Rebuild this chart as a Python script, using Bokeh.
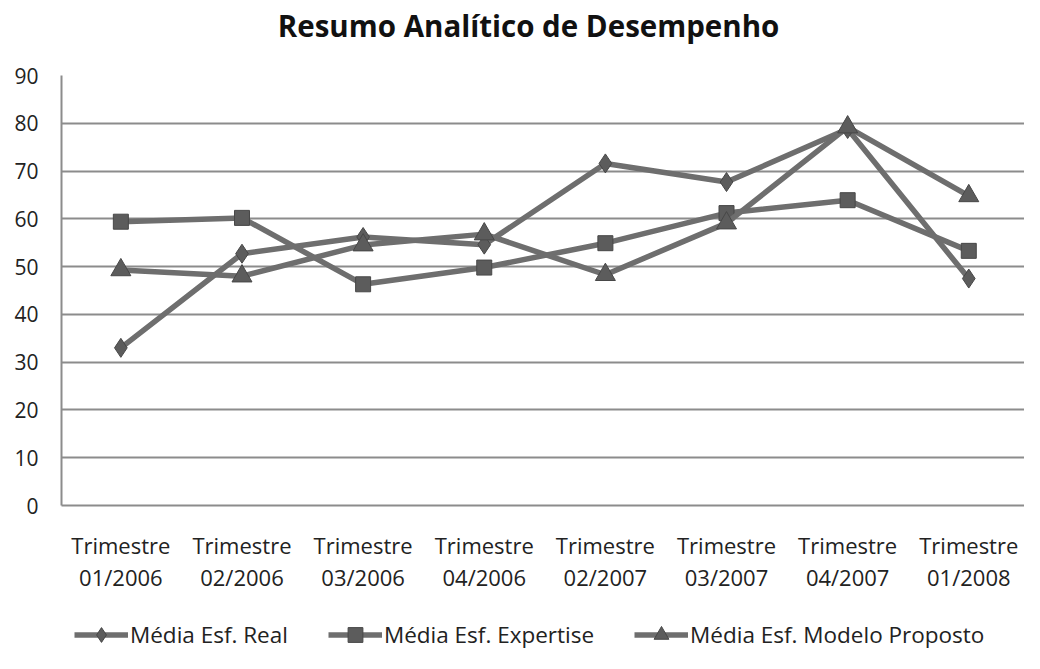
from bokeh.plotting import figure
from bokeh.models import Legend, LegendItem, FixedTicker, Label
from bokeh.layouts import column
from bokeh.embed import file_html
from bokeh.resources import INLINE

categories = ["Trimestre\n01/2006", "Trimestre\n02/2006", "Trimestre\n03/2006", "Trimestre\n04/2006",
              "Trimestre\n02/2007", "Trimestre\n03/2007", "Trimestre\n04/2007", "Trimestre\n01/2008"]
real = [33.0, 52.7, 56.2, 54.6, 71.6, 67.7, 78.8, 47.5]
expertise = [59.4, 60.2, 46.3, 49.8, 54.9, 61.2, 63.9, 53.3]
modelo = [49.3, 48.0, 54.5, 56.8, 48.3, 59.1, 79.2, 64.8]
y_ticks = [0, 10, 20, 30, 40, 50, 60, 70, 80, 90]
series_names = ["Média Esf. Real", "Média Esf. Expertise", "Média Esf. Modelo Proposto"]
title_text = "Resumo Analítico de Desempenho"

x = list(range(len(categories)))
series = [real, expertise, modelo]
FONT = "Open Sans"
W = 1024
LINE = "#6e6e6e"
FILL = "#5c5c5c"
EDGE = "#474747"
TEXT = "#222222"


def bare(height):
    f = figure(width=W, height=height, output_backend="svg", toolbar_location=None,
               x_range=(0, 1), y_range=(0, 1), min_border=0,
               x_axis_location=None, y_axis_location=None)
    f.grid.grid_line_color = None
    f.outline_line_color = None
    return f


# --- title strip (its frame is aligned with the chart frame by the column layout) ---
p_t = bare(60)
p_t.add_layout(Label(x=0.485, y=0.58, text=title_text, text_align="center", text_baseline="alphabetic",
                     text_font=FONT, text_font_size="29.5px", text_font_style="bold", text_color="#111111"))

# --- main chart ---
p = figure(width=W, height=556, output_backend="svg", toolbar_location=None,
           x_range=(-0.49, 7.46), y_range=(0, 90),
           min_border_left=61, min_border_right=0, min_border_top=15, min_border_bottom=111)
p.outline_line_color = None

p.xgrid.grid_line_color = None
p.ygrid.grid_line_color = "#8c8c8c"
p.ygrid.grid_line_width = 2
p.ygrid.ticker = FixedTicker(ticks=y_ticks)

p.yaxis.ticker = FixedTicker(ticks=y_ticks)
p.yaxis.axis_line_color = "#8c8c8c"
p.yaxis.axis_line_width = 2
p.yaxis.major_tick_line_color = None
p.yaxis.minor_tick_line_color = None
p.yaxis.major_label_text_font = FONT
p.yaxis.major_label_text_font_size = "21px"
p.yaxis.major_label_text_color = TEXT
p.yaxis.major_label_standoff = 17

p.xaxis.ticker = FixedTicker(ticks=x)
p.xaxis.major_label_overrides = {i: c for i, c in enumerate(categories)}
p.xaxis.axis_line_color = "#8c8c8c"
p.xaxis.axis_line_width = 2
p.xaxis.major_tick_line_color = None
p.xaxis.minor_tick_line_color = None
p.xaxis.major_label_text_font = FONT
p.xaxis.major_label_text_font_size = "22px"
p.xaxis.major_label_text_color = TEXT
p.xaxis.major_label_standoff = 18
p.xaxis.major_label_text_line_height = 1.07

styles = [("diamond", 19), ("square", 15), ("triangle", 20)]
for vals, (marker, size) in zip(series, styles):
    p.line(x, vals, line_color=LINE, line_width=5.5)
    p.scatter(x, vals, marker=marker, size=size, fill_color=FILL, line_color=EDGE, line_width=1)

# --- legend strip (proxy renderers use the same data, which lies outside this strip's ranges) ---
p_leg = bare(37)
items = []
for name, vals, (marker, size) in zip(series_names, series, styles):
    l = p_leg.line(x, vals, line_color=LINE, line_width=5.5)
    s = p_leg.scatter(x, vals, marker=marker, size=size, fill_color=FILL, line_color=EDGE, line_width=1)
    items.append(LegendItem(label=name, renderers=[l, s]))

legend = Legend(items=items, orientation="horizontal", location=(13, 0),
                border_line_color=None, background_fill_alpha=0,
                label_text_font=FONT, label_text_font_size="22.5px", label_text_color=TEXT,
                glyph_width=54, glyph_height=37, spacing=40, label_standoff=2,
                padding=0, margin=0)
p_leg.add_layout(legend)

layout = column(p_t, p, p_leg, spacing=0)
open("out.html", "w").write(file_html(layout, INLINE))
